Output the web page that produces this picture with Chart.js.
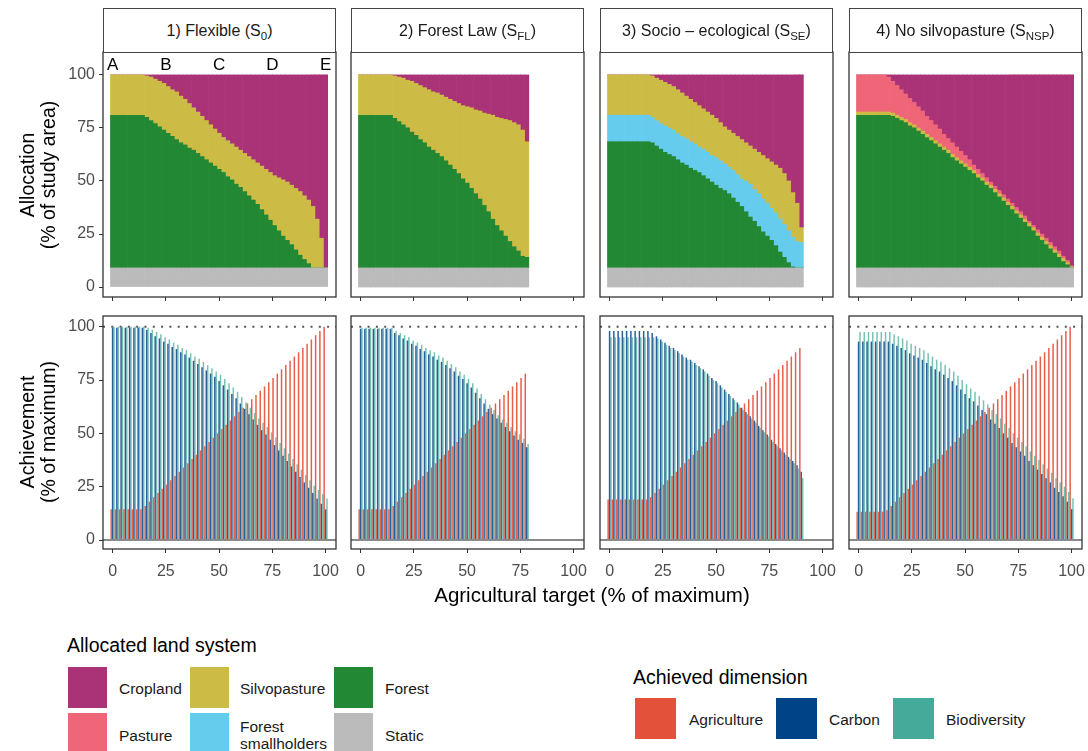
<!DOCTYPE html>
<html><head><meta charset="utf-8">
<script src="https://cdn.jsdelivr.net/npm/chart.js@4.4.1/dist/chart.umd.min.js"></script>
<style>
html,body{margin:0;padding:0;background:#fff;}
body{width:1088px;height:751px;overflow:hidden;position:relative;font-family:"Liberation Sans",Arial,Helvetica,sans-serif;color:#000;}
canvas{position:absolute;}
.strip{position:absolute;box-sizing:border-box;border:1px solid #444;background:#fff;display:flex;align-items:center;justify-content:center;font-size:16px;color:#1a1a1a;white-space:nowrap;}
.strip sub{font-size:11.5px;vertical-align:-4px;line-height:0;}
.ytitle{position:absolute;transform:translate(-50%,-50%) rotate(-90deg);text-align:center;white-space:nowrap;font-size:19.5px;line-height:21px;}
.xtitle{position:absolute;transform:translate(-50%,-50%);white-space:nowrap;font-size:20.5px;}
.ltitle{position:absolute;white-space:nowrap;font-size:19.5px;line-height:20px;}
.key{position:absolute;width:39px;height:41px;}
.lab{position:absolute;white-space:nowrap;font-size:15.5px;line-height:17px;transform:translateY(-50%);color:#1a1a1a;}
</style></head>
<body>
<script>
// ---------------- data ----------------
const xTargets = [0,2,4,6,8,10,12,14,16,18,20,22,24,26,28,30,32,34,36,38,40,42,44,46,48,50,52,54,56,58,60,62,64,66,68,70,72,74,76,78,80,82,84,86,88,90,92,94,96,98,100];
const xTickValues = [0,25,50,75,100];
const yTickValues = [0,25,50,75,100];
const letterLabels = ['A','B','C','D','E'];
const letterPositions = [0,25,50,75,100];
const scenarioNames = ['1) Flexible (S<sub>0</sub>)','2) Forest Law (S<sub>FL</sub>)','3) Socio \u2013 ecological (S<sub>SE</sub>)','4) No silvopasture (S<sub>NSP</sub>)'];

const staticTop = 9;
const allocationTop = 100;

// Allocation: upper edge of each land-system layer (% of study area)
const flexForestTop = [81,81,81,81,81,81,81,81, 80,78.5,77,75.5,74,72.5,71,69.5,68,67,65.5,64.5,63, 61.5,60,58.5,57,55.5,54,52,50.5,48.5,47,45,43,41,39, 36.5,34,31.5,29,26.5,24,22,20,17.5,15,13,11,9,9,9,9];
const flexSilvoTop = [100,100,100,100,100,100,100,100, 99.5,99,98,97,96,94.5,93,92,90,88.5,86.5,84.5,82.5, 80.5,78.5,76.5,74.5,72.5,70.5,69,67.5,66,64.5,63,61.5,60,58.5, 57,55.5,54,52.5,51.5,50.5,49.5,48,46.5,45,43,41,38,32,23,9];

const lawForestTop = [81,81,81,81,81,81,81,81, 79.5,78,76.5,75,73,71.5,69.5,68,66,64.5,63,61.5,59.5, 57.5,55.5,53.5,51,49,46.5,44,41.5,38.5,35.5,32,29,26.5,24,21.5,19,17,14.5,14];
const lawSilvoTop = [100,100,100,100,100,100,100,100, 99.5,99,98.5,97.5,97,96,95,94,93,92,91.5,90.5,89.5, 88.5,87.5,86.5,85.5,85,84.5,83.5,83,82,81.5,81,80,79.5,79,78.5,77.5,76.5,74,68.5];

const socioForestTop = [68.5,68.5,68.5,68.5,68.5,68.5,68.5,68.5,68.5,68.5, 68,66.5,65,63.5,62.5,61.5,60,58.5,57.5,56,55, 54,52.5,51,49.5,48,46.5,45.5,44,42,40,38,35.5,33,31,28.5,26,24,22,19.5,16.5,14,11.5,9.5,9,9];
const socioSmallTop = [81,81,81,81,81,81,81,81,81,81, 80,78.5,77,76,75,74,72.5,71,70,68.5,67.5, 66,65,63.5,62,61,59.5,58,56.5,55,53,51,50,48.5,46,44,41.5,39.5,37,35,32,29.5,26.5,23.5,21.5,21];
const socioSilvoTop = [100,100,100,100,100,100,100,100,100,100, 99.5,98.5,97.5,96.5,95.5,94.5,93,91.5,90,88.5,87, 85.5,84,82.5,81,79.5,77.5,75.5,74,72.5,71,69.5,68,66.5,65,63.5,62,60.5,59,57.5,56,53.5,50,44.5,39.5,28];

const noSilvoForestTop = [81,81,81,81,81,81,81,81, 80.5,79.5,78.5,77.5,76,75,73.5,72,70.5,69,67.5,66,64.5, 63,61,59.5,58,56.5,55,53.5,51.5,50,48,46.5,44.5,42.5,40.5, 38.5,36.5,34.5,32.5,30.5,28.5,26.5,24,22,20,18,16,14,12,10.5,9];
const noSilvoSilvoTop = [82.5,82.5,82.5,82.5,82.5,82.5,82.5,82.5, 82,81,80,79,77.5,76.5,75,73.5,72,70.5,69,67.5,66, 64.5,62.5,61,59.5,58,56.5,55,53,51.5,49.5,48,46,44,42, 40,38,36,34,32,30,28,25.5,23.5,21.5,19.5,17.5,15.5,13.5,11.5,9.5];
const noSilvoPastureTop = [100,100,100,100,100,100,100,99, 97,95,93,91,89,87,85,83,80.5,78.5,76.5,74.5,72, 70,68,66,64,62,60,57.5,55.5,53.5,51.5,49.5,47.5,45.5,43.5, 41.5,39.5,37.5,35.5,33.5,31,29,27,25,23,21,19,17,14.5,12.5,10];

// Achievement (% of maximum)
const flexAgri = [14.4,14.4,14.4,14.4,14.4,14.4,14.4,14.4, 16,18,20,22,24,26,28,30,32,34,36,38,40,42,44,46,48,50,52,54,56,58,60,62,64,66,68,70,72,74,76,78,80,82,84,86,88,90,92,94,96,98,100];
const flexCarbon = [99.5,99.5,99.5,99.5,99.5,99.5,99.5,99.5, 98.5,97,95.5,94.5,93,92,90.5,89.5,88,87,85.5,84,82.5, 81,79.5,78,76.5,74.5,72.5,70.5,68.5,66.5,64,61.5,59,56.5,54, 51.5,49.5,47,44.5,42,39.5,37,34.5,32,29.5,27,24.5,22,19.5,17,14.4];
const flexBio = [100,100,100,100,100,100,100,100, 99.5,98.5,97.5,96.5,95,94,92.5,91.5,90,89,87.5,86,85, 83.5,82,80.5,79,77.5,75.5,73.5,71.5,69.5,67,64.5,62,59.5,57, 55,53,50.5,48,45.5,43,40.5,38,35.5,33,30.5,28,25.5,23.5,21.5,19.5];

const lawAgri = [14.4,14.4,14.4,14.4,14.4,14.4,14.4,14.4, 16,18,20,22,24,26,28,30,32,34,36,38,40,42,44,46,48,50,52,54,56,58,60,62,64,66,68,70,72,74,76,78];
const lawCarbon = [99,99,99,99,99,99,99,99, 97,96,94.5,93.5,92,91,89.5,88.5,87,86,84.5,83.5,82, 80.5,79,77,75.5,73.5,71.5,69,66.5,64,61.5,59,57,55,53,51,49,47,45.5,43.5];
const lawBio = [99.5,99.5,99.5,99.5,99.5,99.5,99.5,99.5, 98,97,96,95,93.5,92.5,91.5,90,89,88,86.5,85.5,84, 82.5,81,79,77.5,75.5,73.5,71,68.5,66,63.5,61,58.5,56.5,55,53,51,49.5,47.5,45];

const socioAgri = [19,19,19,19,19,19,19,19,19,19, 20,22,24,26,28,30,32,34,36,38,40,42,44,46,48,50,52,54,56,58,60,62,64,66,68,70,72,74,76,78,80,82,84,86,88,90];
const socioCarbon = [98,98,98,98,98,98,98,98,98,98, 97,95.5,94,92.5,91,90,88.5,87,85.5,84.5,83, 81.5,80,78,76,74.5,72.5,70.5,68.5,66.5,64.5,62,60,58,56,53.5,51.5,49.5,47,45,43,41,39,37,35,32];
const socioBio = [95,95,95,95,95,95,95,95,95,95, 95,94.5,93,91.5,90,89,87.5,86,84.5,83.5,82, 80.5,79,77,75,73.5,71.5,69.5,67.5,65.5,63.5,61,59,57,55,52.5,50.5,48.5,46,44,42,40,38,36,33.5,29];

const noSilvoAgri = [13.3,13.3,13.3,13.3,13.3,13.3,13.3,14, 16,18,20,22,24,26,28,30,32,34,36,38,40,42,44,46,48,50,52,54,56,58,60,62,64,66,68,70,72,74,76,78,80,82,84,86,88,90,92,94,96,98,100];
const noSilvoCarbon = [93,93,93,93,93,93,93,93, 92,91,90,89,87.5,86.5,85.5,84.5,83,81.5,80,79,77.5, 76,74.5,72.5,70.5,68.5,66.5,65,63,61,59,56.5,54.5,52.5,50, 48,45.5,43.5,41.5,39.5,37,35,33,31,29,27,24.5,22.5,20.5,18,14.5];
const noSilvoBio = [97.5,97.5,97.5,97.5,97.5,97.5,97.5,97.5, 96.5,95.5,94.5,93.5,92,91,90,89,87.5,86,84.5,83.5,82, 80.5,79,77,75,73,71,69.5,67.5,65.5,63.5,61,59,57,54.5, 52.5,50,48,46,44,41.5,39.5,37.5,35.5,33.5,31.5,29,27,25,22.5,19.6];

const referenceLines = [0, 100];

// ---------------- styling ----------------
const LAND = {cropland:'#AA3377', pasture:'#EE6677', silvo:'#CCBB44', small:'#66CCEE', forest:'#228833', static:'#BBBBBB'};
const FONT = '"Liberation Sans", Arial, Helvetica, sans-serif';
Chart.defaults.font.family = FONT;
Chart.defaults.animation = false;

const COLS = [103, 351, 600, 849];
const PW = 233;
const ROWS = [{top:52, h:245, ymin:-4.7, ymax:110.8}, {top:316, h:233, ymin:-4.2, ymax:105}];
const X_MIN = -4.5, X_MAX = 104.9;

const panelDeco = {
  id: 'panelDeco',
  afterDatasetsDraw(chart, args, o) {
    const {ctx, chartArea: a, scales: {x, y}} = chart;
    ctx.save();
    if (o.hlines) {
      o.hlines.forEach(l => {
        const py = y.getPixelForValue(l.value);
        ctx.beginPath();
        ctx.strokeStyle = l.color; ctx.lineWidth = l.width;
        ctx.setLineDash(l.dash || []);
        ctx.moveTo(a.left, py); ctx.lineTo(a.right, py); ctx.stroke();
      });
    }
    ctx.setLineDash([]);
    if (o.letters) {
      ctx.fillStyle = '#000';
      ctx.font = '17px ' + FONT;
      ctx.textAlign = 'center'; ctx.textBaseline = 'middle';
      o.letters.labels.forEach((t, i) => {
        ctx.fillText(t, x.getPixelForValue(o.letters.at[i]), y.getPixelForValue(o.letters.y));
      });
    }
    ctx.strokeStyle = '#333'; ctx.lineWidth = 1.3;
    ctx.strokeRect(a.left, a.top, a.right - a.left, a.bottom - a.top);
    ctx.restore();
  }
};

function axisCommon(showLabels, pad) {
  return {
    grid: {display: true, drawOnChartArea: false, drawTicks: true, tickLength: 4, color: '#333', lineWidth: 1, offset: false},
    border: {display: false},
    ticks: {display: showLabels, color: '#4d4d4d', font: {size: 16}, padding: pad, maxRotation: 0, autoSkip: false}
  };
}

function makeChart(row, col, datasets, deco, barOpts) {
  const ML = col === 0 ? 50 : 12, MR = 14, MT = 14, MB = row === 0 ? 14 : 38;
  const R = ROWS[row];
  const cv = document.createElement('canvas');
  const W = PW + ML + MR, H = R.h + MT + MB;
  cv.width = W; cv.height = H;
  cv.style.left = (COLS[col] - ML) + 'px';
  cv.style.top = (R.top - MT) + 'px';
  cv.style.width = W + 'px'; cv.style.height = H + 'px';
  document.body.appendChild(cv);
  const xa = axisCommon(row === 1, 9), ya = axisCommon(true, 4);
  const yWidth = col === 0 ? ML : 0;
  new Chart(cv, {
    type: 'bar',
    data: {datasets},
    options: {
      responsive: false, animation: false, devicePixelRatio: 1,
      layout: {padding: {left: col === 0 ? 0 : ML, right: MR, top: MT, bottom: 0}},
      plugins: {legend: {display: false}, tooltip: {enabled: false}, panelDeco: deco},
      datasets: {bar: barOpts},
      scales: {
        x: Object.assign(xa, {type: 'linear', min: X_MIN, max: X_MAX, offset: false,
          afterBuildTicks: s => { s.ticks = xTickValues.map(v => ({value: v})); },
          afterFit: s => { s.height = MB; }}),
        y: Object.assign(ya, {type: 'linear', display: col === 0, min: R.ymin, max: R.ymax, beginAtZero: false,
          afterBuildTicks: s => { s.ticks = yTickValues.map(v => ({value: v})); },
          afterFit: s => { s.width = yWidth; }})
      }
    },
    plugins: [panelDeco]
  });
}

function layer(color, lower, upper) {
  const n = upper.length;
  return {
    backgroundColor: color, borderWidth: 0,
    data: xTargets.slice(0, n).map((x, i) => ({
      x,
      y: [typeof lower === 'number' ? lower : lower[i], typeof upper === 'number' ? upper : upper[i]]
    }))
  };
}
function constSeries(v, n) { return new Array(n).fill(v); }

const allocPanels = [
  [ layer(LAND.static, 0, constSeries(staticTop, flexForestTop.length)),
    layer(LAND.forest, staticTop, flexForestTop),
    layer(LAND.silvo, flexForestTop, flexSilvoTop),
    layer(LAND.cropland, flexSilvoTop, constSeries(allocationTop, flexSilvoTop.length)) ],
  [ layer(LAND.static, 0, constSeries(staticTop, lawForestTop.length)),
    layer(LAND.forest, staticTop, lawForestTop),
    layer(LAND.silvo, lawForestTop, lawSilvoTop),
    layer(LAND.cropland, lawSilvoTop, constSeries(allocationTop, lawSilvoTop.length)) ],
  [ layer(LAND.static, 0, constSeries(staticTop, socioForestTop.length)),
    layer(LAND.forest, staticTop, socioForestTop),
    layer(LAND.small, socioForestTop, socioSmallTop),
    layer(LAND.silvo, socioSmallTop, socioSilvoTop),
    layer(LAND.cropland, socioSilvoTop, constSeries(allocationTop, socioSilvoTop.length)) ],
  [ layer(LAND.static, 0, constSeries(staticTop, noSilvoForestTop.length)),
    layer(LAND.forest, staticTop, noSilvoForestTop),
    layer(LAND.silvo, noSilvoForestTop, noSilvoSilvoTop),
    layer(LAND.pasture, noSilvoSilvoTop, noSilvoPastureTop),
    layer(LAND.cropland, noSilvoPastureTop, constSeries(allocationTop, noSilvoPastureTop.length)) ]
];

const achieveSets = [
  [flexAgri, flexCarbon, flexBio],
  [lawAgri, lawCarbon, lawBio],
  [socioAgri, socioCarbon, socioBio],
  [noSilvoAgri, noSilvoCarbon, noSilvoBio]
];
const dimColors = ['rgba(226,78,55,0.9)', 'rgba(10,75,140,0.88)', 'rgba(68,170,153,0.72)'];

allocPanels.forEach((ds, c) => {
  makeChart(0, c, ds,
    c === 0 ? {letters: {labels: letterLabels, at: letterPositions, y: 104.7}} : {},
    {grouped: false, barPercentage: 1, categoryPercentage: 1});
});

achieveSets.forEach((sets, c) => {
  const ds = sets.map((vals, k) => ({
    backgroundColor: dimColors[k], borderWidth: 0,
    data: vals.map((v, i) => ({x: xTargets[i], y: v}))
  }));
  makeChart(1, c, ds, {hlines: [
    {value: referenceLines[0], color: '#8a8a8a', width: 2},
    {value: referenceLines[1], color: '#555', width: 2, dash: [2, 6.3]}
  ]}, {grouped: true, barPercentage: 1.05, categoryPercentage: 1});
});

// strips
scenarioNames.forEach((name, c) => {
  const d = document.createElement('div');
  d.className = 'strip';
  d.style.left = COLS[c] + 'px'; d.style.top = '8px';
  d.style.width = PW + 'px'; d.style.height = '45px';
  d.innerHTML = '<span>' + name + '</span>';
  document.body.appendChild(d);
});
</script>

<div class="ytitle" style="left:38px;top:175px">Allocation<br>(% of study area)</div>
<div class="ytitle" style="left:38px;top:432px">Achievement<br>(% of maximum)</div>
<div class="xtitle" style="left:592px;top:595px">Agricultural target (% of maximum)</div>

<div class="ltitle" style="left:67px;top:635px">Allocated land system</div>
<div class="key" style="left:68px;top:667px;background:#AA3377"></div>
<div class="lab" style="left:119px;top:688px">Cropland</div>
<div class="key" style="left:190px;top:667px;background:#CCBB44"></div>
<div class="lab" style="left:240px;top:688px">Silvopasture</div>
<div class="key" style="left:334px;top:667px;background:#228833"></div>
<div class="lab" style="left:385px;top:688px">Forest</div>
<div class="key" style="left:68px;top:713px;background:#EE6677"></div>
<div class="lab" style="left:119px;top:735px">Pasture</div>
<div class="key" style="left:190px;top:713px;background:#66CCEE"></div>
<div class="lab" style="left:240px;top:735px">Forest<br>smallholders</div>
<div class="key" style="left:334px;top:713px;background:#BBBBBB"></div>
<div class="lab" style="left:385px;top:735px">Static</div>

<div class="ltitle" style="left:633px;top:667px">Achieved dimension</div>
<div class="key" style="left:635px;top:698px;width:41px;background:#E4513A"></div>
<div class="lab" style="left:689px;top:719px">Agriculture</div>
<div class="key" style="left:776px;top:698px;width:41px;background:#004488"></div>
<div class="lab" style="left:829px;top:719px">Carbon</div>
<div class="key" style="left:893px;top:698px;width:41px;background:#44AA99"></div>
<div class="lab" style="left:946px;top:719px">Biodiversity</div>
</body></html>
